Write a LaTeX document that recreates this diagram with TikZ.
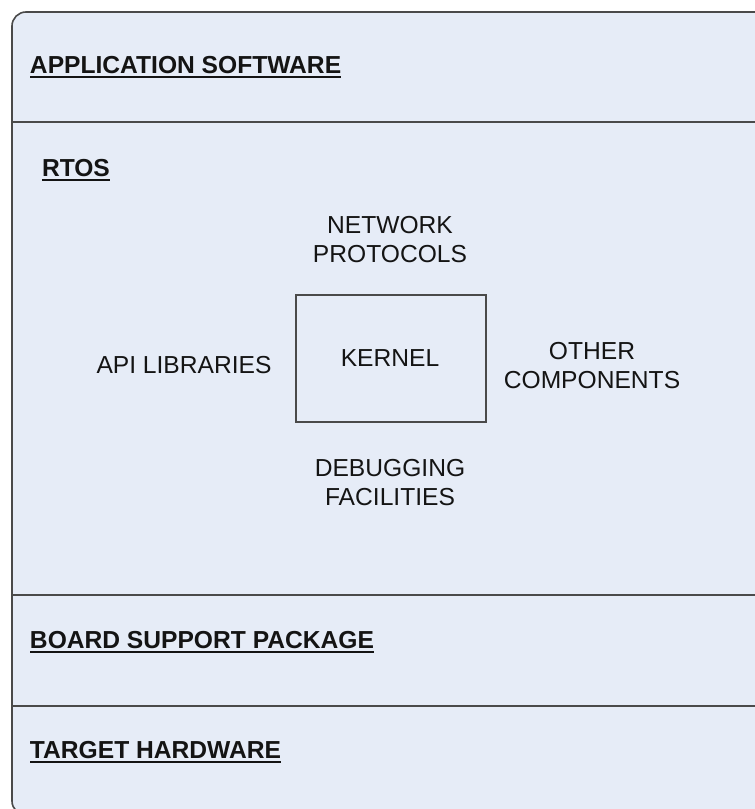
\documentclass[tikz,border=0pt]{standalone}
\usepackage{fontspec}
\setmainfont{Liberation Sans}
\definecolor{panel}{HTML}{E6ECF7}
\definecolor{linegray}{HTML}{4A4A4A}
\definecolor{textdark}{HTML}{141414}
\begin{document}
\begin{tikzpicture}[x=1pt,y=-1pt,
  frame/.style={draw=linegray, line width=1.6pt},
  divider/.style={draw=linegray, line width=1.5pt},
  lbl/.style={inner sep=0pt, outer sep=0pt, text=textdark,
    font=\fontsize{24.6}{28.5}\selectfont, align=center},
  heading/.style={inner sep=0pt, outer sep=0pt, text=textdark,
    font=\fontsize{24.6}{28.5}\selectfont\bfseries, anchor=base west},
  uline/.style={draw=textdark, line width=2pt}]
\useasboundingbox (0,0) rectangle (755,809);
\begin{scope}
  \clip (0,0) rectangle (755,809);
  % outer panel, running past the right and bottom edges
  \draw[frame, fill=panel, rounded corners=14pt] (12,12) rectangle (790,815);
  % layer dividers
  \draw[divider] (12,122) -- (790,122);
  \draw[divider] (12,595) -- (790,595);
  \draw[divider] (12,706) -- (790,706);
\end{scope}

% layer headings
\node[heading] (app) at (30,73) {APPLICATION SOFTWARE};
\node[heading] (rtos) at (42,176.5) {RTOS};
\node[heading] (bsp) at (30,648.5) {BOARD SUPPORT PACKAGE};
\node[heading] (hw) at (30,758.5) {TARGET HARDWARE};
\foreach \h in {app,rtos,bsp,hw}
  \draw[uline] ([yshift=-3.5pt]\h.base west) -- ([yshift=-3.5pt]\h.base east);

% RTOS components
\node[frame, fill=panel, minimum width=190pt, minimum height=127pt, inner sep=0pt]
  (kbox) at (391,358.5) {};
\node[lbl, anchor=base] (kernel) at (390,366) {KERNEL};
\node[lbl, anchor=north] (net) at (390,216.5) {NETWORK\\PROTOCOLS};
\node[lbl, anchor=base] (api) at (184,373) {API LIBRARIES};
\node[lbl, anchor=north] (other) at (592,342.5) {OTHER\\COMPONENTS};
\node[lbl, anchor=north] (debug) at (390,459.5) {DEBUGGING\\FACILITIES};
\end{tikzpicture}
\end{document}
